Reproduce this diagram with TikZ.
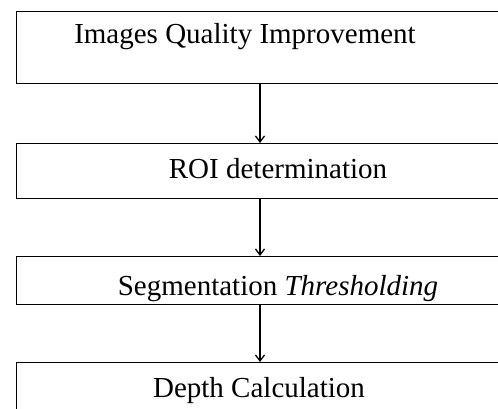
\documentclass[tikz,border=0pt]{standalone}
\usepackage{fontspec}
\setmainfont{Liberation Serif}
\usetikzlibrary{arrows.meta}
\begin{document}
\begin{tikzpicture}[x=1pt,y=-1pt,
  box/.style={draw,line width=1.3pt,minimum width=488pt,inner sep=0pt,anchor=north west},
  lbl/.style={anchor=base,inner sep=0pt,font=\fontsize{29}{33}\selectfont},
  conn/.style={line width=1.3pt,-{Straight Barb[length=6pt,width=9pt,line width=1.3pt]}}]
\useasboundingbox (0,0) rectangle (498,408);
\begin{scope}
\clip (0,0) rectangle (498,408);
\node[box,minimum height=72pt] (b1) at (16,11) {};
\node[box,minimum height=55pt] (b2) at (16,143) {};
\node[box,minimum height=48pt] (b3) at (16,256) {};
\node[box,minimum height=60pt] (b4) at (16,362) {};
\end{scope}
\node[lbl] (t1) at (245,43) {Images Quality Improvement};
\node[lbl] (t2) at (278,178) {ROI determination};
\node[lbl] (t3) at (278,295) {Segmentation \textit{Thresholding}};
\node[lbl] (t4) at (259,397) {Depth Calculation};
\draw[conn] (b1.south -| 260,0) -- (b2.north -| 260,0);
\draw[conn] (b2.south -| 260,0) -- (b3.north -| 260,0);
\draw[conn] (b3.south -| 260,0) -- (b4.north -| 260,0);
\end{tikzpicture}
\end{document}
